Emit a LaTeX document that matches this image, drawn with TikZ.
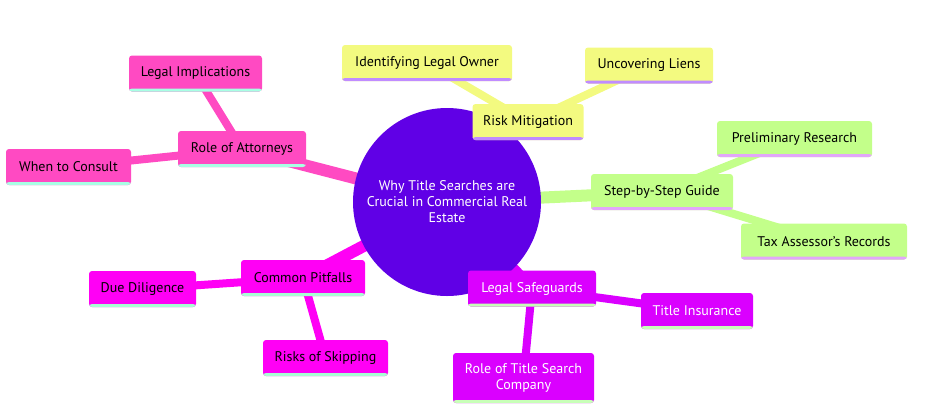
\documentclass[tikz,border=0pt]{standalone}
\usepackage{fontspec}
\setmainfont{PT Sans}
\usetikzlibrary{backgrounds}
\definecolor{rootcol}{RGB}{96,0,230}
\definecolor{riskcol}{RGB}{243,250,128}
\definecolor{riskline}{RGB}{192,140,255}
\definecolor{stepcol}{RGB}{195,255,138}
\definecolor{stepline}{RGB}{226,166,250}
\definecolor{attycol}{RGB}{255,74,194}
\definecolor{attyline}{RGB}{168,255,228}
\definecolor{pitcol}{RGB}{255,0,245}
\definecolor{pitline}{RGB}{168,255,212}
\definecolor{safecol}{RGB}{218,0,255}
\definecolor{safeline}{RGB}{200,255,184}
\tikzset{
  box/.style={rectangle, rounded corners=3pt, inner sep=0pt, minimum height=36pt,
    align=center, font=\fontsize{14}{16}\selectfont},
  stripe/.style={path picture={\fill[#1] ([yshift=3pt]path picture bounding box.south west)
    rectangle (path picture bounding box.south east);}},
  risk/.style={box, fill=riskcol, stripe=riskline},
  stepbox/.style={box, fill=stepcol, stripe=stepline},
  atty/.style={box, fill=attycol, stripe=attyline},
  pit/.style={box, fill=pitcol, stripe=pitline},
  safe/.style={box, fill=safecol, stripe=safeline, text=white},
  rootedge/.style={line width=12pt, draw=#1},
  subedge/.style={line width=8pt, draw=#1}
}

\begin{document}
\begin{tikzpicture}[x=1pt, y=-1pt]
		%%%%% START %%%%%
		\useasboundingbox (0,0) rectangle (928,418);
		
		\node[circle, fill=rootcol, minimum size=188pt, inner sep=0pt, text=white, align=center,
		  font=\fontsize{14}{16}\selectfont] (root) at (447,202)
		  {Why Title Searches are\\Crucial in Commercial Real\\Estate};
		
		% risk mitigation
		\node[risk, minimum width=111pt] (risk) at (528,122) {Risk Mitigation};
		\node[risk, minimum width=170pt] (owner) at (427,63) {Identifying Legal Owner};
		\node[risk, minimum width=128pt] (liens) at (649,65.5) {Uncovering Liens};
		
		% step by step
		\node[stepbox, minimum width=142pt] (guide) at (662,192) {Step-by-Step Guide};
		\node[stepbox, minimum width=155pt] (prelim) at (794.5,139) {Preliminary Research};
		\node[stepbox, minimum width=166pt] (assessor) at (824,241.5) {Tax Assessor's Records};
		
		% attorneys
		\node[atty, minimum width=128pt] (atty) at (242,149) {Role of Attorneys};
		\node[atty, minimum width=133pt] (implic) at (195.5,73.5) {Legal Implications};
		\node[atty, minimum width=125pt] (consult) at (68.5,167) {When to Consult};
		
		% pitfalls
		\node[pit, minimum width=124pt] (pitfalls) at (303,278) {Common Pitfalls};
		\node[pit, minimum width=107pt] (dilig) at (142.5,289) {Due Diligence};
		\node[pit, minimum width=125pt] (skip) at (325.5,358) {Risks of Skipping};
		
		% safeguards
		\node[safe, minimum width=128pt] (safe) at (532,288.5) {Legal Safeguards};
		\node[safe, minimum width=112pt] (insur) at (697,311) {Title Insurance};
		\node[safe, minimum width=141pt, minimum height=50pt] (company) at (523.5,378)
		  {Role of Title Search\\Company};
		
		\begin{scope}[on background layer]
		\draw[rootedge=riskcol] (root.center) -- (risk.center);
		\draw[rootedge=stepcol] (root.center) -- (guide.center);
		\draw[rootedge=attycol] (root.center) -- (atty.center);
		\draw[rootedge=pitcol] (root.center) -- (pitfalls.center);
		\draw[rootedge=safecol] (root.center) -- (safe.center);
		
		\draw[subedge=riskcol] (risk.center) -- (owner.center);
		\draw[subedge=riskcol] (risk.center) -- (liens.center);
		\draw[subedge=stepcol] (guide.center) -- (prelim.center);
		\draw[subedge=stepcol] (guide.center) -- (assessor.center);
		\draw[subedge=attycol] (atty.center) -- (implic.center);
		\draw[subedge=attycol] (atty.center) -- (consult.center);
		\draw[subedge=pitcol] (pitfalls.center) -- (dilig.center);
		\draw[subedge=pitcol] (pitfalls.center) -- (skip.center);
		\draw[subedge=safecol] (safe.center) -- (insur.center);
		\draw[subedge=safecol] (safe.center) -- (company.center);
		\end{scope}
		
		%%%%% END %%%%%
\end{tikzpicture}
\end{document}
